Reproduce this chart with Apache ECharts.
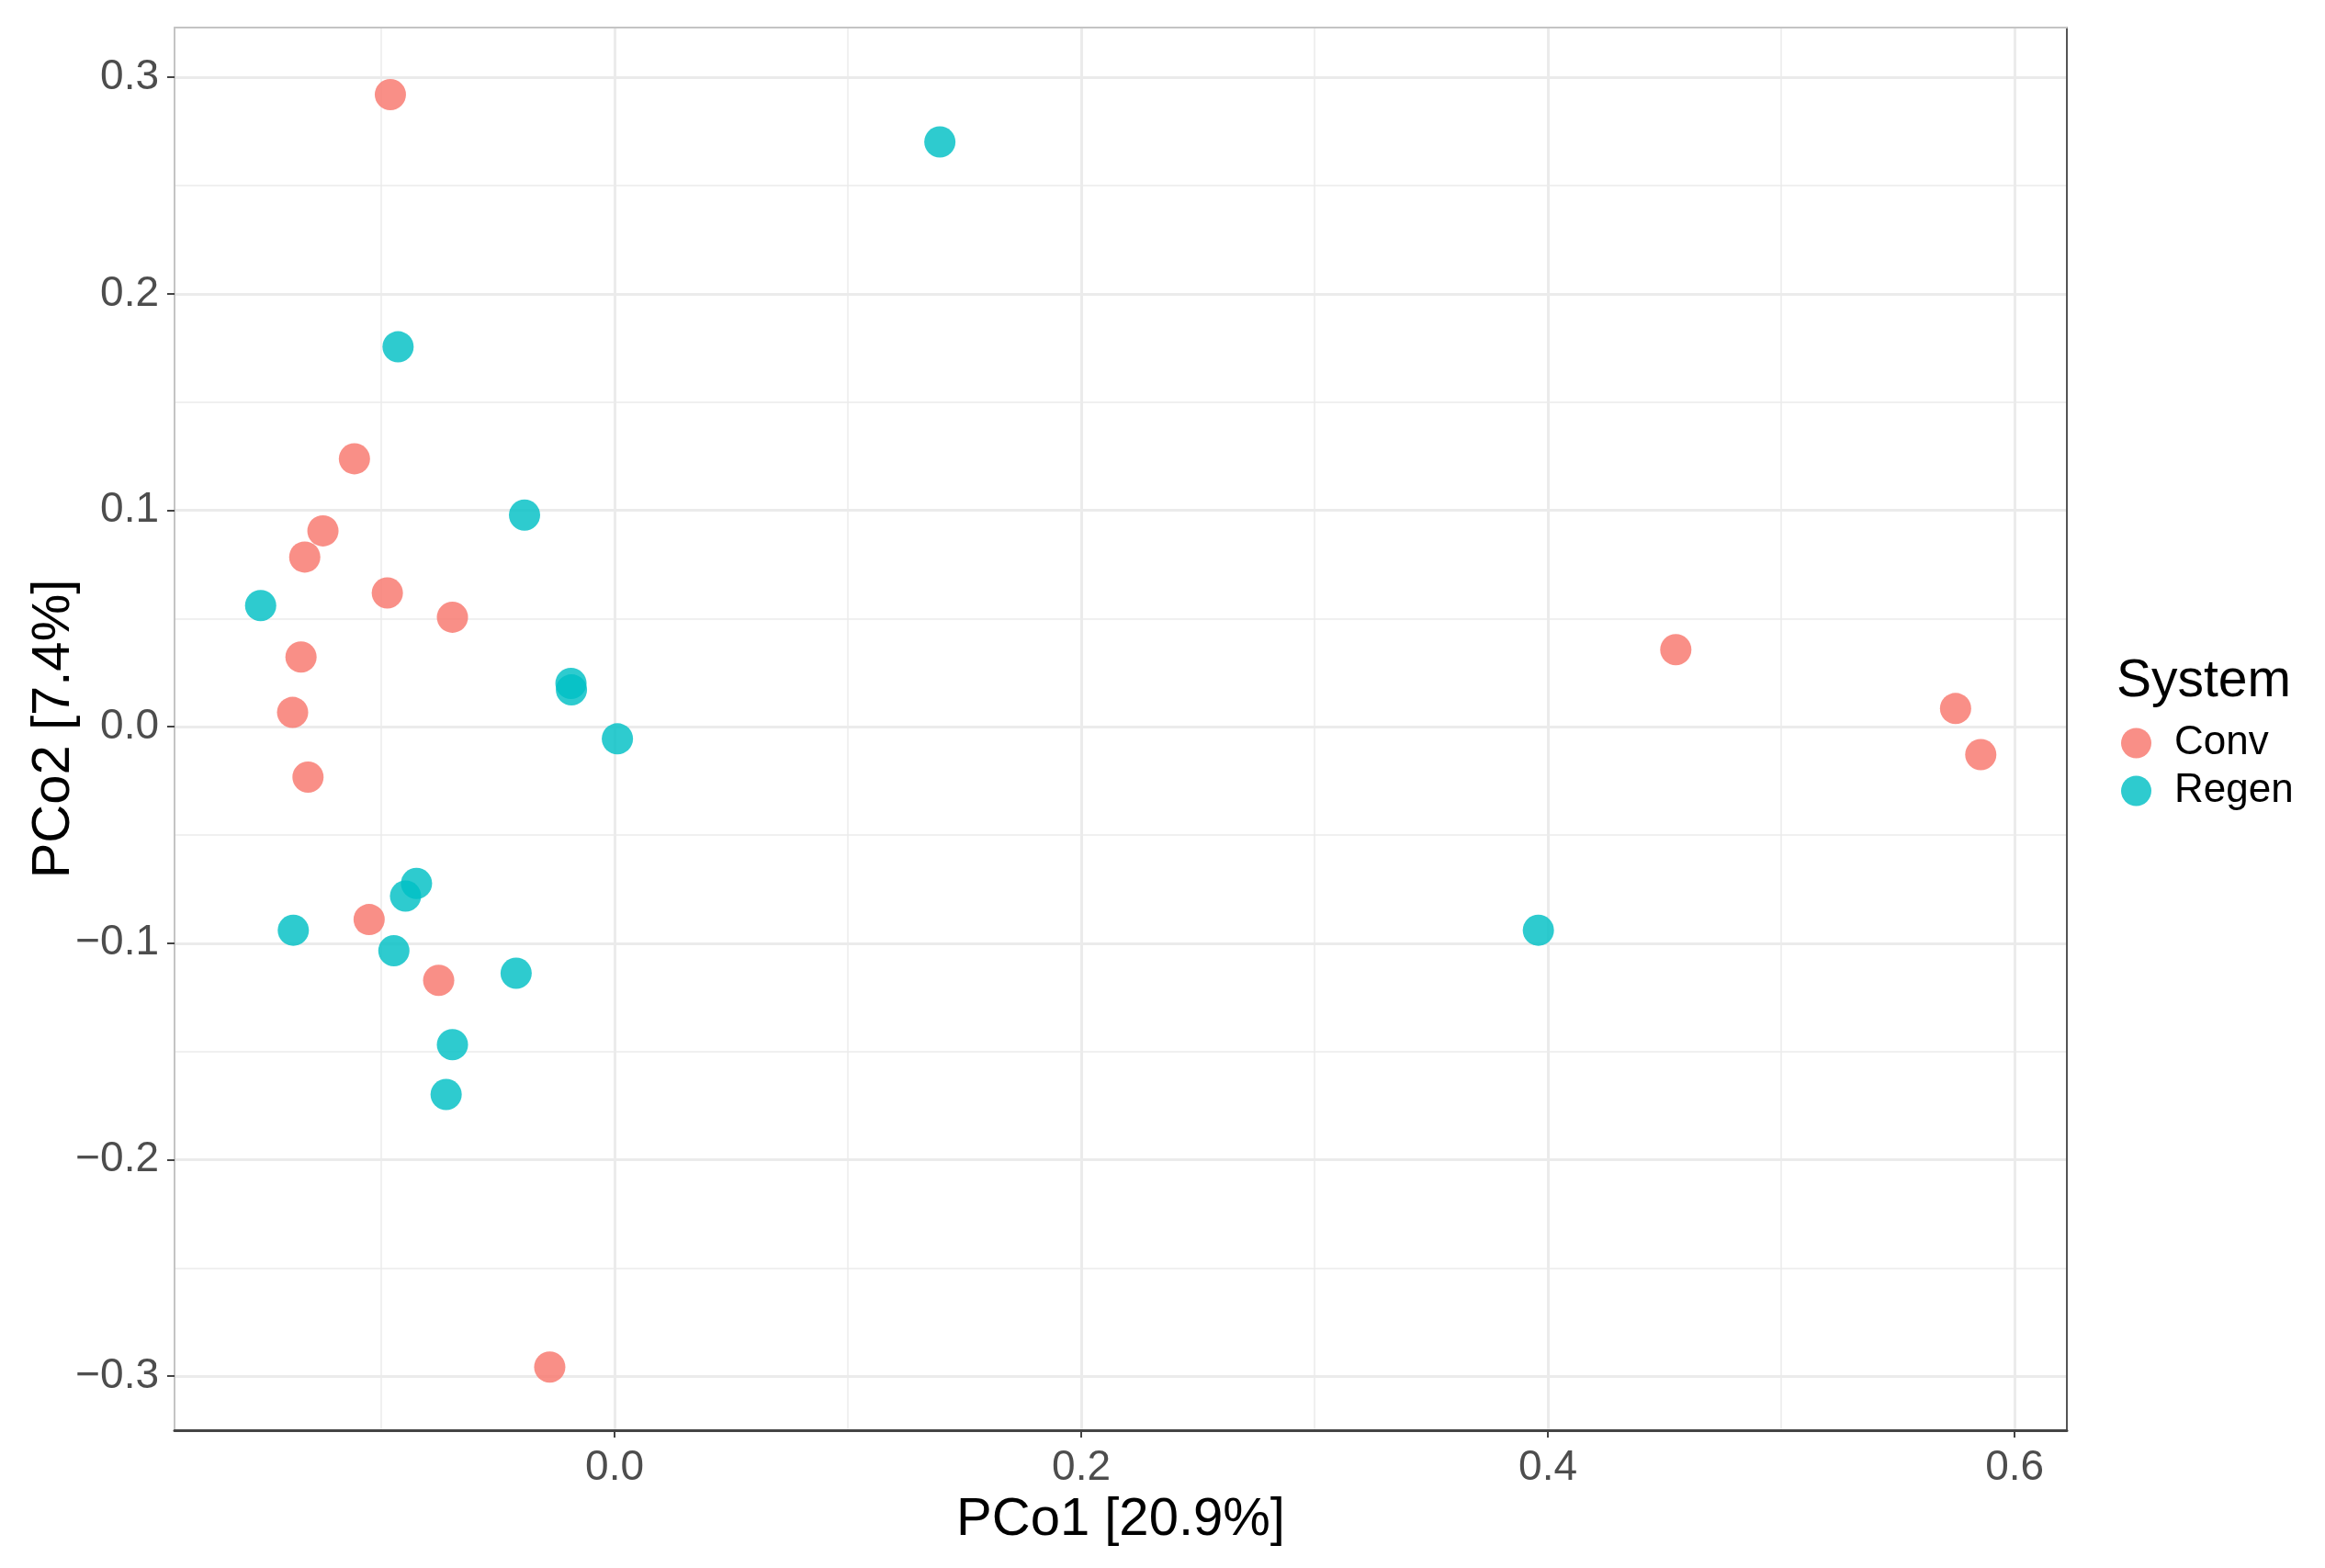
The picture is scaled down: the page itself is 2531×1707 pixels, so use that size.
<!DOCTYPE html>
<html>
<head>
<meta charset="utf-8">
<script src="https://cdn.jsdelivr.net/npm/echarts@6/dist/echarts.min.js"></script>
<style>
  html, body { margin: 0; padding: 0; background: #fff; }
  #pcoa { width: 2531px; height: 1707px; }
</style>
</head>
<body>
<div id="pcoa"></div>
<script>
// PCoA scores
const convX  = [-0.0961, -0.1115, -0.1250, -0.1328, -0.0974, -0.0695, -0.1344, -0.1380, -0.1314, -0.1052, -0.0754, -0.0278, 0.4548, 0.5747, 0.5855]
const convY  = [ 0.2920,  0.1238,  0.0905,  0.0784,  0.0618,  0.0506,  0.0322,  0.0066, -0.0233, -0.0891, -0.1172, -0.2958, 0.0356, 0.0084, -0.0129]
const regenX = [ 0.1394, -0.0928, -0.0386, -0.1517, -0.0187, -0.0185, 0.0012, -0.0849, -0.0896, -0.1377, -0.0946, -0.0422, -0.0695, -0.0722, 0.3959]
const regenY = [ 0.2702,  0.1755,  0.0978,  0.0560,  0.0200,  0.0170, -0.0056, -0.0724, -0.0782, -0.0940, -0.1035, -0.1139, -0.1469, -0.1699, -0.0940]

// axis breaks (ggplot style: labelled majors + unlabelled minors)
const xMajor = [0.0, 0.2, 0.4, 0.6]
const xMinor = [-0.1, 0.1, 0.3, 0.5]
const yMajor = [-0.3, -0.2, -0.1, 0.0, 0.1, 0.2, 0.3]
const yMinor = [-0.25, -0.15, -0.05, 0.05, 0.15, 0.25]

const xRange = [-0.1886, 0.6224]
const yRange = [-0.325, 0.323]

const font = 'Liberation Sans, Arial, sans-serif'
const gridCol = '#ebebeb'

const fmt = v => {
    const s = Math.abs(v).toFixed(1)
    return v < -1e-9 ? '\u2212' + s : s
}

const pairs = (xs, ys) => xs.map((x, i) => [x, ys[i]])

let chart = echarts.init(document.getElementById('pcoa'))

chart.setOption({
    backgroundColor: '#fff',
    animation: false,
    title: {
        text: 'System',
        left: 2299,
        top: 709,
        textStyle: { fontFamily: font, fontSize: 57, fontWeight: 'normal', color: '#000' }
    },
    legend: {
        orient: 'vertical',
        left: 2304,
        top: 782,
        itemWidth: 33,
        itemHeight: 33,
        itemGap: 8,
        icon: 'circle',
        selectedMode: false,
        textStyle: { fontFamily: font, fontSize: 44, color: '#000', padding: [0, 0, 0, 20] },
        data: ['Conv', 'Regen']
    },
    grid: { left: 190, right: 281, top: 30, bottom: 150 },
    xAxis: [
        {
            type: 'value',
            position: 'bottom',
            min: xRange[0],
            max: xRange[1],
            name: 'PCo1 [20.9%]',
            nameLocation: 'middle',
            nameGap: 60,
            nameTextStyle: { fontFamily: font, fontSize: 58, color: '#000' },
            axisLine: { onZero: false, lineStyle: { color: '#444', width: 3 } },
            axisTick: { customValues: xMajor, length: 8, lineStyle: { color: '#444', width: 2 } },
            axisLabel: { customValues: xMajor, formatter: fmt, margin: 18, fontFamily: font, fontSize: 46, color: '#4d4d4d' },
            splitLine: { show: true, lineStyle: { color: gridCol, width: 3 } }
        },
        {
            // top border + minor vertical grid
            type: 'value',
            position: 'top',
            min: xRange[0],
            max: xRange[1],
            axisLine: { onZero: false, lineStyle: { color: '#c4c4c4', width: 2 } },
            axisTick: { show: false, customValues: xMinor },
            axisLabel: { show: false, customValues: xMinor },
            splitLine: { show: true, lineStyle: { color: gridCol, width: 1.5 } }
        }
    ],
    yAxis: [
        {
            type: 'value',
            position: 'left',
            min: yRange[0],
            max: yRange[1],
            name: 'PCo2 [7.4%]',
            nameLocation: 'middle',
            nameGap: 102,
            nameMoveOverlap: false,
            nameTextStyle: { fontFamily: font, fontSize: 58, color: '#000' },
            axisLine: { onZero: false, lineStyle: { color: '#c4c4c4', width: 2 } },
            axisTick: { customValues: yMajor, length: 8, lineStyle: { color: '#444', width: 2 } },
            axisLabel: { customValues: yMajor, formatter: fmt, margin: 17, fontFamily: font, fontSize: 46, color: '#4d4d4d' },
            splitLine: { show: true, lineStyle: { color: gridCol, width: 3 } }
        },
        {
            // right border + minor horizontal grid
            type: 'value',
            position: 'right',
            min: yRange[0],
            max: yRange[1],
            axisLine: { show: true, onZero: false, lineStyle: { color: '#555', width: 2 } },
            axisTick: { show: false, customValues: yMinor },
            axisLabel: { show: false, customValues: yMinor },
            splitLine: { show: true, lineStyle: { color: gridCol, width: 1.5 } }
        }
    ],
    series: [
        {
            name: 'Conv',
            type: 'scatter',
            symbolSize: 34,
            itemStyle: { color: '#F8766D', opacity: 0.82 },
            data: pairs(convX, convY)
        },
        {
            name: 'Regen',
            type: 'scatter',
            symbolSize: 34,
            itemStyle: { color: '#00BFC4', opacity: 0.82 },
            data: pairs(regenX, regenY)
        }
    ]
})
</script>
</body>
</html>
